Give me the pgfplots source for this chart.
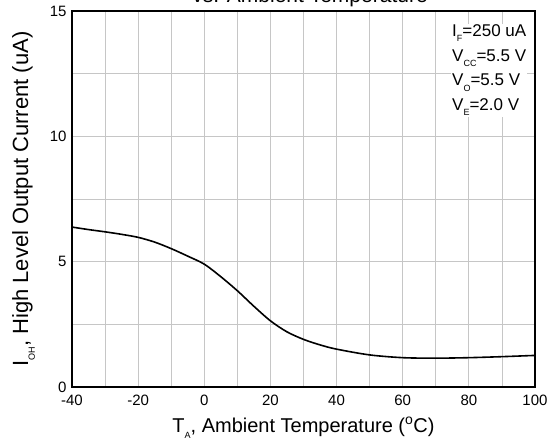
\documentclass[border=0pt]{standalone}
\usepackage{pgfplots}
\pgfplotsset{compat=1.18}
\usepackage{fontspec}
\setmainfont{Liberation Sans}
\newcommand{\sub}[1]{\raisebox{-0.6ex}{\fontsize{9}{9}\selectfont #1}}
\begin{document}
\begin{tikzpicture}[x=1pt,y=1pt]
\path[use as bounding box] (0,0) rectangle (551,441);
\node[anchor=base, font=\fontsize{21}{21}\selectfont] at (310,438) {vs. Ambient Temperature};
\begin{axis}[
  at={(72pt,54pt)}, anchor=south west,
  scale only axis, width=463pt, height=376pt,
  xmin=-40, xmax=100, ymin=0, ymax=15,
  xtick={-40,-20,...,100}, minor xtick={-30,-10,...,90},
  ytick={0,5,10,15}, minor ytick={2.5,7.5,12.5},
  grid=both,
  major grid style={draw=gray!45, line width=0.8pt},
  minor grid style={draw=gray!45, line width=0.8pt},
  major tick length=0pt, minor tick length=0pt,
  axis line style={black, line width=1.2pt},
  /pgf/number format/assume math mode=true,
  ticklabel style={font=\fontsize{15}{15}\selectfont},
  xticklabel style={yshift=-4pt},
  yticklabel style={xshift=-2pt},
  xlabel={T\sub{A}, Ambient Temperature (\textsuperscript{o}C)},
  ylabel={I\sub{OH}, High Level Output Current (uA)},
  xlabel style={font=\fontsize{20}{20}\selectfont, at={(axis description cs:0.5,-0.1197)}, anchor=base},
  ylabel style={font=\fontsize{22}{22}\selectfont, at={(axis description cs:-0.095,0.5)}, anchor=base},
]
\addplot[black, line width=1.6pt, smooth] coordinates {
(-40,6.38) (-35,6.28) (-30,6.19) (-25,6.09) (-20,5.97) (-15,5.78) (-10,5.52) (-5,5.22)
(0,4.90) (5,4.40) (10,3.84) (15,3.22) (20,2.64) (25,2.20) (30,1.90) (35,1.68) (40,1.51)
(50,1.28) (60,1.17) (70,1.15) (80,1.17) (90,1.21) (100,1.26)
};
\node[anchor=north west, align=left, fill=white, font=\fontsize{17}{24.6}\selectfont, inner sep=1pt] at (axis cs:74.6,14.5)
 {I\sub{F}=250 uA\\V\sub{CC}=5.5 V\\V\sub{O}=5.5 V\\V\sub{E}=2.0 V};
\end{axis}
\end{tikzpicture}
\end{document}
